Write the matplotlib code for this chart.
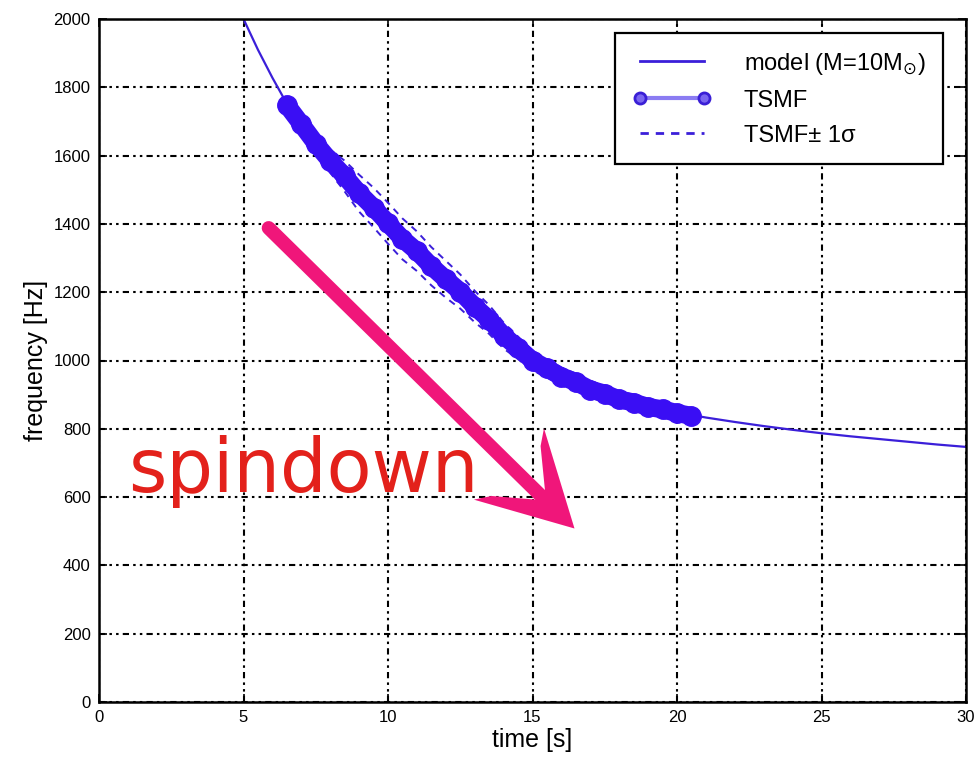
import numpy as np
import matplotlib
matplotlib.use("Agg")
import matplotlib.pyplot as plt
from matplotlib.lines import Line2D
from matplotlib.path import Path
from matplotlib.markers import MarkerStyle
from matplotlib.transforms import Affine2D

# Chirp model frequency track (M = 10 solar masses)
model_time = [5, 5.5, 6, 6.5, 7, 7.5, 8, 8.5, 9, 9.5, 10, 10.5, 11, 11.5, 12,
              12.5, 13, 13.5, 14, 14.5, 15, 15.5, 16, 16.5, 17, 17.5, 18, 18.5,
              19, 19.5, 20, 21, 22, 23, 24, 25, 26, 27, 28, 29, 30]
model_freq = [2000, 1910, 1828, 1752, 1690, 1632, 1586, 1538, 1492, 1446, 1400,
              1358, 1318, 1278, 1240, 1200, 1160, 1118, 1075, 1035, 1002, 975,
              955, 935, 917, 902, 888, 876, 866, 856, 848, 833, 820, 808, 797,
              787, 778, 770, 762, 754, 747]

# TSMF recovered track and its 1-sigma spread
tsmf_time = [6.5, 7, 7.5, 8, 8.5, 9, 9.5, 10, 10.5, 11, 11.5, 12, 12.5, 13,
             13.5, 14, 14.5, 15, 15.5, 16, 16.5, 17, 17.5, 18, 18.5, 19, 19.5,
             20, 20.5]
tsmf_freq = [1748, 1692, 1635, 1584, 1540, 1490, 1448, 1402, 1356, 1320, 1276,
             1238, 1202, 1158, 1120, 1073, 1037, 1000, 977, 953, 937, 915, 903,
             886, 877, 864, 857, 846, 838]
tsmf_sigma = [10, 14, 22, 34, 45, 54, 58, 60, 60, 58, 56, 54, 50, 46, 42, 38,
              33, 29, 27, 26, 25, 24, 24, 23, 23, 22, 21, 19, 15]

x_ticks = [0, 5, 10, 15, 20, 25, 30]
y_ticks = [0, 200, 400, 600, 800, 1000, 1200, 1400, 1600, 1800, 2000]

# Annotation: spindown arrow (time, frequency)
arrow_start = (5.87, 1388)
arrow_tip = (16.42, 510)
label_pos = (1.0, 615)

BLUE = "#3b1fd9"
BAND = "#3a0ef4"
PINK = "#f0167a"
RED = "#e3211b"
FONT = "Liberation Sans"

plt.rcParams["font.family"] = [FONT, "DejaVu Sans"]

fig = plt.figure(figsize=(9.74, 7.62), dpi=100)
ax = fig.add_axes([99 / 974, 1 - 702 / 762, 867 / 974, 683 / 762])

t_arr = np.array(tsmf_time)
f_arr = np.array(tsmf_freq)
s_arr = np.array(tsmf_sigma)

ax.plot(model_time, model_freq, color=BLUE, lw=1.6, zorder=2)
ax.plot(t_arr, f_arr + s_arr, color=BLUE, lw=1.4, ls=(0, (3.5, 3)), zorder=2)
ax.plot(t_arr, f_arr - s_arr, color=BLUE, lw=1.4, ls=(0, (3.5, 3)), zorder=2)
ax.plot(t_arr, f_arr, color=BAND, lw=13, marker="o", ms=14, mfc=BAND,
        mec=BAND, mew=1, solid_capstyle="round", zorder=3)

ax.set_xlim(0, 30)
ax.set_ylim(0, 2000)
ax.set_xticks(x_ticks)
ax.set_yticks(y_ticks)
ax.tick_params(direction="in", length=6, width=1.2, top=True, right=True,
               labelsize=12, pad=6)
for s in ax.spines.values():
    s.set_linewidth(1.8)
ax.set_axisbelow(True)
ax.grid(True, color="k", linestyle=(0, (3, 2, 1.2, 2, 1.2, 2)), linewidth=1.5)

ax.set_xlabel("time [s]", fontsize=18, labelpad=2)
ax.set_ylabel("frequency [Hz]", fontsize=18, labelpad=4)

# Legend
handles = [
    Line2D([], [], color=BLUE, lw=2),
    Line2D([], [], color="#8b7cf2", lw=3, marker="o", ms=8, mfc="#7a66f0",
           mec="#3a1fd6", mew=2),
    Line2D([], [], color=BLUE, lw=2, ls=(0, (3, 2.5))),
]
labels = [r"model (M=10M$_{\odot}$)", "TSMF", "TSMF\u00b1 1\u03c3"]
leg = ax.legend(handles, labels, loc="upper right",
                bbox_to_anchor=(0.9735, 0.9795), borderaxespad=0,
                fontsize=17, handlelength=3.3, handletextpad=1.4,
                labelspacing=0.55, borderpad=0.75, numpoints=2,
                fancybox=False, framealpha=1, edgecolor="k")
leg.get_frame().set_linewidth(1.6)

# Spindown annotation
ax.text(label_pos[0], label_pos[1], "spindown", color=RED, fontsize=53,
        family="DejaVu Sans", ha="left", va="baseline", zorder=5)

p0 = ax.transData.transform(arrow_start)
p1 = ax.transData.transform(arrow_tip)
d = p1 - p0
ang = np.degrees(np.arctan2(d[1], d[0]))
u = d / np.hypot(*d)
shaft_end = ax.transData.inverted().transform(p1 - 45 * u)
ax.annotate("", xy=shaft_end, xytext=arrow_start,
            arrowprops=dict(arrowstyle="-", lw=10, color=PINK,
                            shrinkA=0, shrinkB=0, capstyle="round"),
            zorder=5)
head_verts = [(0, 0), (-92, 50), (-82, 35), (-40, 0), (-82, -35), (-92, -50), (0, 0)]
head_codes = [Path.MOVETO] + [Path.LINETO] * 5 + [Path.CLOSEPOLY]
head = MarkerStyle(Path(head_verts, head_codes),
                   transform=Affine2D().rotate_deg(ang))
ax.plot([arrow_tip[0]], [arrow_tip[1]], marker=head, ms=2 * 92 / 1.389,
        color=PINK, mec=PINK, mew=0, ls="none", zorder=5)

fig.savefig("out.png", dpi=100)
